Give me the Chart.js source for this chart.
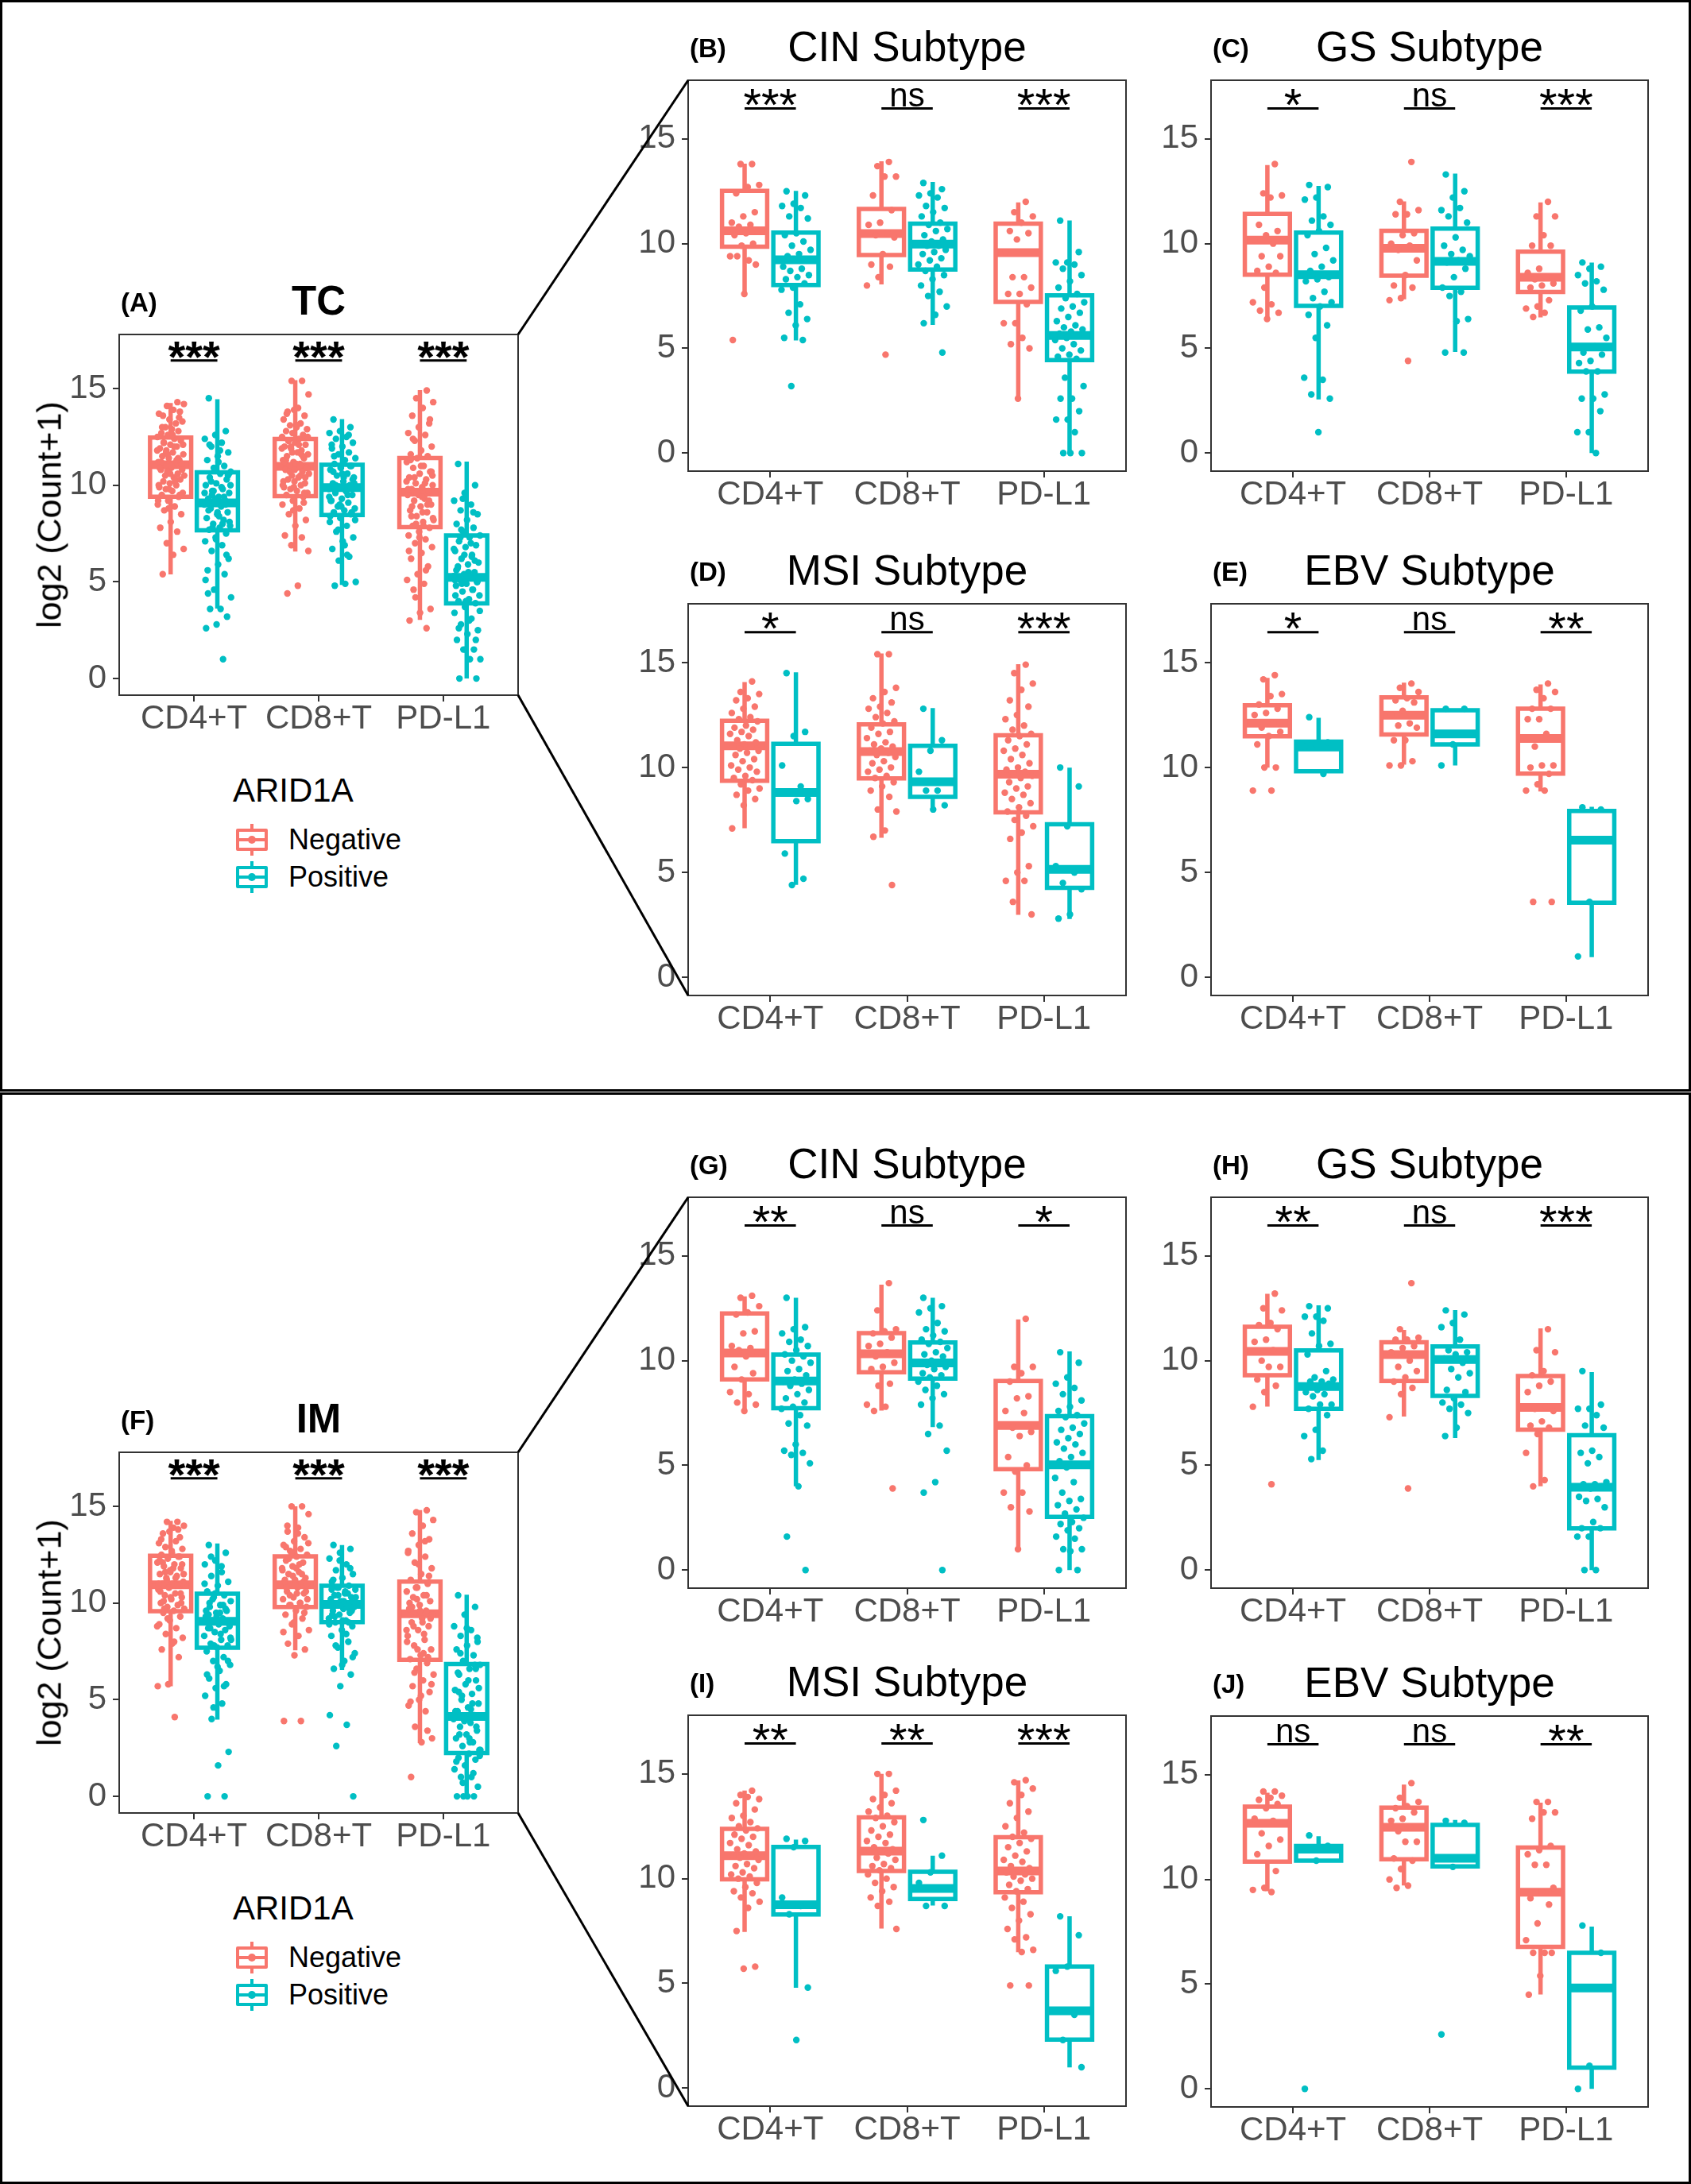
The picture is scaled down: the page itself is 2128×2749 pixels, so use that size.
<!DOCTYPE html>
<html>
<head>
<meta charset="utf-8">
<script src="https://cdn.jsdelivr.net/npm/chart.js@4.4.1/dist/chart.umd.min.js"></script>
<style>
  body { margin: 0; background: #fff; }
  #page { position: relative; width: 2128px; height: 2749px; overflow: hidden; background: #fff;
          font-family: "Liberation Sans", Arial, Helvetica, sans-serif; }
  .frame { position: absolute; left: 0; width: 2128px; height: 1374px; border: 3px solid #000; box-sizing: border-box; }
  .panel { position: absolute; }
  .tag { position: absolute; font-size: 33px; font-weight: bold; line-height: 1; transform: translateY(-50%); }
  .ttl { position: absolute; font-size: 53px; line-height: 1; white-space: nowrap; transform: translate(-50%, -50%); }
  .ttl.big { font-size: 51px; font-weight: bold; }
  .ylab { position: absolute; font-size: 43px; line-height: 1; white-space: nowrap; transform: translate(-50%, -50%) rotate(-90deg); }
  .legTitle { position: absolute; font-size: 42px; line-height: 1; transform: translateY(-50%); }
  .legText { position: absolute; font-size: 36px; line-height: 1; transform: translateY(-50%); }
  .key { position: absolute; width: 40px; height: 40px; }
  .key div { position: absolute; }
  .key .w { left: 18px; top: 0; width: 4px; height: 40px; }
  .key .b { left: 0; top: 6px; width: 40px; height: 28px; box-sizing: border-box; border: 4px solid; background: #fff; border-radius: 2px; }
  .key .m { left: 0; top: 18px; width: 40px; height: 4px; }
  .key .d { left: 15px; top: 15px; width: 10px; height: 10px; border-radius: 50%; }
  svg { position: absolute; left: 0; top: 0; }
</style>
</head>
<body>
<div id="page">
  <div class="frame" style="top:0"></div>
  <div class="frame" style="top:1375px"></div>
</div>
<script>
(function () {
  "use strict";

  var categories = ["CD4+T", "CD8+T", "PD-L1"];
  var yTicks = [0, 5, 10, 15];
  var groups = ["Negative", "Positive"];
  var groupColors = ["#F8766D", "#00BFC4"];

  // box stats per category: [lower whisker, q1, median, q3, upper whisker]

  // (A) TC
  var tcSig = ["***", "***", "***"];
  var tcNegBox = [[5.39, 9.41, 11.06, 12.47, 14.26], [6.57, 9.44, 10.98, 12.4, 15.44], [3.03, 7.83, 9.64, 11.41, 14.92]];
  var tcPosBox = [[3.62, 7.67, 9.09, 10.67, 14.45], [4.84, 8.46, 9.88, 11.06, 13.42], [0, 3.89, 5.23, 7.4, 11.22]];
  var tcNegPts = [
    [14.3,14.1,14.2,13.9,13.6,13.8,13.4,13.7,13.2,13.0,13.3,12.9,12.7,12.8,12.6,12.5,12.4,12.2,12.3,12.1,11.9,12.0,11.8,11.6,11.7,11.5,11.3,11.4,11.2,11.1,11.0,11.1,10.9,10.8,10.6,10.7,10.5,10.4,10.2,10.3,10.1,9.9,10.0,9.8,9.6,9.7,9.5,9.4,9.2,9.0,8.9,8.7,8.5,8.1,7.8,7.6,7.0,6.7,6.4,5.4,
     9.5,9.8,10.0,10.3,10.5,10.8,11.0,11.2,11.4,11.6,11.8,12.0,12.2,12.4,10.6,10.9,11.3,11.7,12.1,12.6,13.0,13.5,8.8,9.2,10.2],
    [15.4,15.4,14.7,14.0,13.8,13.6,13.9,13.4,13.2,13.1,12.9,13.0,12.8,12.6,12.7,12.5,12.4,12.3,12.1,12.2,12.0,11.8,11.9,11.6,11.7,11.5,11.4,11.2,11.3,11.1,11.0,10.9,11.0,10.8,10.7,10.5,10.6,10.4,10.3,10.1,10.2,9.9,10.0,9.8,9.6,9.7,9.5,9.4,9.2,9.0,8.8,8.5,8.2,7.9,7.4,7.3,6.9,6.6,4.8,4.4,
     9.6,9.9,10.2,10.5,10.7,10.9,11.1,11.3,11.5,11.7,11.9,12.1,12.3,10.4,10.8,11.2,11.6,12.0,12.5,13.1,13.7,9.1,8.7,10.0,11.0],
    [14.9,14.5,14.3,14.0,13.6,13.2,13.0,12.7,12.6,12.3,12.0,11.8,11.6,11.5,11.4,11.2,11.0,10.9,10.7,10.6,10.4,10.3,10.1,10.0,9.9,9.8,9.7,9.6,9.5,9.3,9.2,9.0,8.9,8.7,8.6,8.4,8.2,8.1,7.9,7.8,7.6,7.4,7.2,7.0,6.8,6.5,6.2,5.8,5.4,5.1,4.9,4.6,3.6,3.4,3.0,2.6,
     8.0,8.3,8.6,8.9,9.2,9.5,9.8,10.1,10.4,10.7,11.0,11.3,9.0,9.6,10.2,7.9,12.4,13.4,7.3,6.6,5.6,4.2,10.5,9.4,8.4]
  ];
  var tcPosPts = [
    [14.5,12.8,12.6,12.4,12.2,12.0,11.7,11.5,11.3,11.0,10.9,10.7,10.6,10.4,10.3,10.1,10.0,9.8,9.7,9.6,9.4,9.3,9.2,9.1,9.0,8.9,8.8,8.6,8.5,8.3,8.2,8.0,7.9,7.8,7.7,7.5,7.3,7.1,6.9,6.6,6.2,5.9,5.6,5.4,4.6,4.2,3.6,3.6,3.2,2.8,2.6,1.0,
     7.8,8.1,8.4,8.7,9.0,9.3,9.6,9.9,10.2,10.5,8.6,9.1,9.4,9.7,10.0,11.8,12.1,6.4,7.2,5.1,8.0,9.5,10.6,11.2,4.4],
    [13.4,13.0,12.8,12.7,12.5,12.4,12.2,12.0,11.9,11.7,11.6,11.4,11.3,11.1,11.0,10.9,10.8,10.6,10.5,10.4,10.2,10.1,10.0,9.9,9.8,9.7,9.6,9.5,9.3,9.2,9.1,8.9,8.8,8.7,8.6,8.5,8.3,8.1,7.9,7.6,7.3,7.1,6.7,6.3,6.1,5.0,4.9,4.8,
     8.6,8.9,9.2,9.5,9.8,10.1,10.4,10.7,11.0,9.0,9.4,9.7,10.0,10.3,10.6,12.1,12.6,7.7,8.2,6.9,11.5,9.9,10.9,8.4,6.4],
    [11.1,10.0,9.6,9.2,9.0,8.7,8.5,8.2,8.0,7.8,7.6,7.4,7.3,7.1,6.9,6.8,6.6,6.4,6.2,6.0,5.9,5.7,5.5,5.4,5.3,5.2,5.1,5.0,4.9,4.8,4.6,4.5,4.3,4.1,4.0,3.9,3.7,3.4,3.1,2.8,2.5,2.3,2.0,1.5,1.5,1.0,1.0,0.0,0.0,
     4.0,4.3,4.6,4.9,5.2,5.5,5.8,6.1,6.4,6.7,7.0,7.3,5.0,5.3,5.6,8.6,9.3,3.5,3.0,2.6,2.0,1.5,5.1,6.3,7.7]
  ];

  // (B) TC, CIN subtype
  var tcCinSig = ["***", "ns", "***"];
  var tcCinNegBox = [[7.66, 9.85, 10.61, 12.52, 13.82], [8.05, 9.46, 10.48, 11.66, 13.93], [2.59, 7.22, 9.57, 10.95, 11.97]];
  var tcCinPosBox = [[5.38, 8.02, 9.23, 10.53, 12.52], [6.12, 8.76, 9.98, 10.95, 12.95], [0, 4.44, 5.62, 7.53, 11.11]];
  var tcCinNegPts = [
    [13.8,13.8,12.8,12.7,12.4,11.5,11.3,11.0,10.9,10.8,10.6,10.5,10.4,10.0,9.9,9.4,9.2,9.4,9.0,7.6,5.4],
    [13.9,13.7,13.2,13.2,12.3,11.6,11.0,10.9,10.5,10.4,10.3,9.5,9.0,8.9,8.4,8.0,4.7],
    [12.0,11.5,11.3,11.0,10.6,10.5,10.2,9.6,8.4,8.4,7.9,7.6,7.6,7.1,6.2,6.2,5.5,5.2,5.0,2.6]
  ];
  var tcCinPosPts = [
    [12.5,12.3,11.9,11.8,11.7,11.3,11.2,10.5,10.4,10.1,9.9,9.7,9.5,9.4,9.2,9.2,8.9,8.8,8.7,8.5,8.4,8.3,8.1,7.9,7.8,7.1,6.7,6.4,6.1,5.5,5.4,3.2],
    [12.9,12.6,12.4,12.3,12.2,11.8,11.7,11.5,11.3,11.0,10.9,10.7,10.6,10.4,10.2,10.1,10.0,9.9,9.9,9.7,9.6,9.5,9.3,9.2,9.0,8.9,8.7,8.5,8.3,8.0,7.7,7.5,7.0,6.6,6.2,4.8],
    [11.1,9.6,9.1,9.1,9.0,8.8,8.5,8.2,7.9,7.6,7.4,7.2,7.0,6.9,6.7,6.5,6.3,6.1,6.0,5.9,5.8,5.7,5.6,5.5,5.4,5.2,5.0,4.9,4.7,4.6,4.5,3.6,3.2,2.6,2.6,2.0,1.6,1.6,1.0,0.0,0.0,0.0]
  ];

  // (C) TC, GS subtype
  var tcGsSig = ["*", "ns", "***"];
  var tcGsNegBox = [[6.43, 8.52, 10.17, 11.42, 13.75], [7.34, 8.47, 9.78, 10.61, 12.02], [6.48, 7.69, 8.39, 9.62, 11.97]];
  var tcGsPosBox = [[2.56, 7.03, 8.52, 10.53, 12.76], [4.83, 7.89, 9.15, 10.72, 13.34], [0, 3.89, 5.07, 6.95, 9.1]];
  var tcGsNegPts = [
    [13.8,12.4,12.3,12.2,10.9,10.6,10.4,10.2,10.0,9.4,9.4,8.9,8.7,8.6,7.9,7.2,7.1,6.8,6.7,6.4],
    [13.9,12.0,11.6,11.4,11.4,10.5,10.4,10.0,9.9,9.7,9.2,8.5,8.0,7.9,7.4,7.3,4.4],
    [12.0,11.3,11.3,10.4,9.9,9.9,8.8,8.6,8.4,8.3,8.1,8.0,7.9,7.3,7.0,6.9,6.7,6.5]
  ];
  var tcGsPosPts = [
    [12.8,12.7,12.2,12.1,11.3,11.1,10.9,10.6,10.4,9.8,9.5,9.2,8.9,8.7,8.4,8.3,8.2,7.7,7.4,7.2,7.0,6.6,6.1,5.5,3.6,3.5,2.8,2.6,1.0],
    [13.3,12.5,12.2,11.6,11.7,11.3,11.0,10.3,9.9,9.7,9.5,9.4,9.2,9.1,8.8,8.4,7.9,7.7,7.5,6.4,6.3,4.8,4.8],
    [9.1,8.9,8.8,8.5,8.2,8.1,7.8,7.0,6.8,6.0,5.9,5.5,5.1,4.8,4.7,4.4,4.3,3.9,3.9,2.8,2.6,2.6,2.0,1.0,1.0,0.0]
  ];

  // (D) TC, MSI subtype
  var tcMsiSig = ["*", "ns", "***"];
  var tcMsiNegBox = [[7.11, 9.37, 11.03, 12.23, 14.07], [6.65, 9.48, 10.76, 12.06, 15.43], [2.98, 7.86, 9.68, 11.54, 14.92]];
  var tcMsiPosBox = [[4.41, 6.49, 8.81, 11.13, 14.54], [8.01, 8.6, 9.32, 11.03, 12.83], [2.78, 4.27, 5.15, 7.3, 9.99]];
  var tcMsiNegPts = [
    [14.1,13.6,13.5,13.3,13.2,12.9,12.8,12.6,12.4,12.3,12.2,12.0,11.9,11.8,11.7,11.6,11.5,11.3,11.2,11.1,11.0,11.0,10.9,10.8,10.7,10.6,10.4,10.3,10.1,10.0,9.9,9.8,9.6,9.5,9.4,9.2,9.0,8.9,8.7,8.5,8.2,7.1],
    [15.4,15.4,13.8,13.6,13.3,13.1,12.9,12.8,12.6,12.4,12.2,12.1,11.9,11.7,11.6,11.4,11.2,11.1,11.0,10.9,10.8,10.7,10.6,10.5,10.3,10.2,10.0,9.9,9.8,9.6,9.5,9.3,9.1,8.9,8.6,8.0,7.9,7.0,6.7,4.4],
    [14.9,14.5,14.0,13.7,13.2,12.9,12.5,12.3,12.0,11.8,11.6,11.5,11.3,11.1,10.9,10.8,10.6,10.4,10.2,10.0,9.9,9.8,9.7,9.6,9.5,9.3,9.1,9.0,8.8,8.7,8.5,8.3,8.1,7.9,7.7,7.5,7.2,6.9,6.6,5.3,5.0,4.6,4.6,3.6,3.0]
  ];
  var tcMsiPosPts = [
    [14.5,11.7,11.5,10.1,9.1,8.8,8.5,8.4,5.9,4.7,4.4],
    [12.8,11.3,10.8,9.8,8.9,8.9,8.2,8.0],
    [10.0,9.1,7.2,5.3,5.0,4.5,4.2,3.0,2.8]
  ];

  // (E) TC, EBV subtype
  var tcEbvSig = ["*", "ns", "**"];
  var tcEbvNegBox = [[9.99, 11.49, 12.11, 12.96, 14.27], [10.14, 11.57, 12.49, 13.34, 14.04], [8.86, 9.71, 11.38, 12.8, 13.96]];
  var tcEbvPosBox = [[9.82, 9.82, 10.98, 11.23, 12.37], [10.1, 11.1, 11.6, 12.73, 12.8], [0.97, 3.56, 6.54, 7.93, 8.13]];
  var tcEbvNegPts = [
    [14.4,14.2,13.5,13.4,13.0,12.8,12.6,12.5,12.1,11.9,11.7,11.5,11.1,10.0,10.0,8.9,8.9],
    [14.0,13.8,13.6,13.3,13.2,13.1,12.7,12.5,12.1,12.0,11.9,11.3,11.3,10.3,10.1,10.1],
    [14.0,13.7,13.6,13.3,12.8,12.8,12.3,12.3,11.6,11.0,10.1,10.1,10.0,9.7,9.2,8.9,8.9,3.6,3.6]
  ];
  var tcEbvPosPts = [
    [12.4,11.2,11.1,11.0,9.7],
    [12.8,12.8,11.1,10.1],
    [8.1,8.0,3.6,1.0]
  ];

  // (F) IM
  var imSig = ["***", "***", "***"];
  var imNegBox = [[5.7, 9.58, 10.95, 12.45, 14.26], [7.56, 9.8, 10.95, 12.42, 15.0], [2.76, 7.06, 9.45, 11.11, 14.81]];
  var imPosBox = [[3.97, 7.69, 9.06, 10.48, 13.08], [6.54, 9.01, 9.93, 10.9, 13.0], [0, 2.24, 4.13, 6.85, 10.43]];
  var imNegPts = [
    [14.2,14.2,14.0,13.9,13.6,13.4,13.7,13.1,13.2,12.9,12.8,12.6,12.5,12.4,12.3,12.1,12.0,11.9,11.8,11.6,11.5,11.4,11.3,11.1,11.0,11.0,10.9,10.8,10.7,10.5,10.4,10.3,10.2,10.0,9.9,9.8,9.7,9.6,9.5,9.3,9.1,8.9,8.7,8.4,8.2,7.9,7.6,7.2,5.8,5.7,4.1,
     9.7,10.0,10.3,10.6,10.9,11.2,11.5,11.8,12.1,12.4,10.8,11.0,11.3,11.6,12.0,12.7,13.3,13.8,9.2,8.8,8.0,10.1,10.5,11.7,12.2],
    [15.0,15.0,14.6,13.9,13.7,13.4,13.2,13.0,12.8,12.7,12.5,12.4,12.2,12.1,11.9,11.8,11.6,11.5,11.3,11.2,11.1,11.0,10.9,10.9,10.8,10.6,10.5,10.3,10.2,10.0,9.9,9.8,9.6,9.4,9.2,8.9,8.6,8.3,7.9,7.6,7.3,3.9,3.9,
     9.9,10.2,10.5,10.8,11.1,11.4,11.7,12.0,12.3,10.6,10.9,11.2,11.5,12.6,13.1,13.6,14.0,9.5,9.0,8.5,10.0,10.4,11.0,11.8,12.9],
    [14.8,14.7,14.3,14.0,13.6,13.3,13.0,12.7,12.4,12.1,11.8,11.5,11.2,11.0,10.8,10.6,10.4,10.3,10.1,9.9,9.7,9.6,9.5,9.4,9.2,9.0,8.8,8.6,8.3,8.1,7.8,7.6,7.3,7.1,6.9,6.6,6.3,6.0,5.7,5.4,5.0,4.7,4.4,3.6,3.0,2.8,1.0,
     7.2,7.6,8.0,8.4,8.8,9.2,9.6,10.0,10.4,10.8,9.4,9.0,9.8,11.4,12.0,12.6,13.2,6.4,5.8,5.2,4.9,3.4,10.2,8.6,7.4]
  ];
  var imPosPts = [
    [13.0,12.6,12.2,12.0,11.6,11.4,11.1,10.9,10.6,10.4,10.3,10.1,9.9,9.8,9.6,9.5,9.3,9.2,9.1,9.0,8.9,8.7,8.6,8.5,8.3,8.1,7.9,7.8,7.7,7.5,7.2,7.0,6.8,6.5,6.1,5.8,5.6,5.2,4.8,4.0,2.3,1.6,0.0,0.0,
     7.8,8.1,8.4,8.7,9.0,9.3,9.6,9.9,10.2,8.8,9.1,9.4,9.7,10.5,11.0,11.9,12.4,7.0,6.7,6.3,5.7,4.6,8.2,9.5,10.0],
    [13.0,12.8,12.6,12.3,12.0,11.7,11.5,11.3,11.1,10.9,10.8,10.7,10.5,10.4,10.3,10.1,10.0,9.9,9.9,9.8,9.7,9.6,9.5,9.4,9.2,9.1,9.0,8.8,8.6,8.3,8.0,7.7,7.4,7.0,6.6,6.3,5.7,4.2,3.7,2.6,0.0,
     9.1,9.4,9.7,10.0,10.3,10.6,9.3,9.6,9.9,10.2,10.5,10.8,9.8,10.1,11.2,11.8,12.2,8.9,8.4,7.8,7.2,6.8,10.7,9.0,10.4],
    [10.4,9.8,9.4,8.8,8.6,8.3,8.0,7.8,7.6,7.3,7.0,6.8,6.6,6.3,6.0,5.8,5.5,5.3,5.0,4.8,4.6,4.4,4.2,4.1,4.0,3.8,3.6,3.4,3.2,3.0,2.8,2.6,2.4,2.2,2.0,1.9,1.6,1.4,1.0,1.0,0.5,0.0,0.0,0.0,0.0,
     2.4,2.8,3.2,3.6,4.0,4.4,4.8,5.2,5.6,6.0,6.4,6.8,3.9,4.2,4.5,7.4,8.2,8.7,1.8,1.2,0.7,2.1,3.0,5.4,6.6]
  ];

  // (G) IM, CIN subtype
  var imCinSig = ["**", "ns", "*"];
  var imCinNegBox = [[7.62, 9.11, 10.37, 12.25, 13.07], [7.62, 9.45, 10.33, 11.31, 13.63], [1.02, 4.82, 6.91, 9.03, 11.97]];
  var imCinPosBox = [[4.0, 7.73, 9.03, 10.29, 13.0], [6.83, 9.14, 9.89, 10.87, 13.0], [0, 2.54, 5.03, 7.35, 10.44]];
  var imCinNegPts = [
    [13.1,13.0,12.6,12.3,12.2,11.4,11.3,10.7,10.6,10.5,10.4,10.2,9.7,9.4,9.1,8.5,8.4,8.0,7.9,7.6],
    [13.7,12.4,11.5,11.4,11.3,11.1,10.8,10.7,10.4,10.2,9.9,9.7,9.6,8.9,8.8,7.9,7.8,7.6,3.9],
    [12.0,9.7,9.7,9.4,9.0,8.3,8.2,7.6,7.5,6.8,6.6,6.4,5.4,5.0,4.7,3.7,3.7,3.0,2.8,1.0]
  ];
  var imCinPosPts = [
    [13.0,11.6,11.5,11.3,11.0,10.9,10.7,10.5,10.3,10.2,10.0,9.9,9.6,9.5,9.3,9.1,9.0,8.9,8.8,8.6,8.4,8.2,8.0,7.8,7.7,7.4,7.0,6.9,6.0,5.7,5.6,5.5,5.1,4.0,1.6,0.0],
    [13.0,12.6,12.5,12.3,11.8,11.5,11.4,11.2,11.0,10.9,10.8,10.6,10.4,10.3,10.2,10.0,9.9,9.9,9.8,9.7,9.6,9.4,9.3,9.2,9.0,8.8,8.6,8.4,8.2,7.9,6.9,6.5,5.7,4.2,3.7,0.0],
    [10.4,9.9,9.2,8.9,8.7,8.4,8.1,7.8,7.6,7.4,7.3,7.0,6.8,6.7,6.5,6.3,6.1,6.0,5.8,5.6,5.4,5.2,5.0,4.9,4.4,4.2,3.7,3.4,3.3,3.1,2.9,2.7,2.5,2.3,2.2,2.0,1.9,1.6,1.5,1.0,1.0,0.9,0.0,0.0]
  ];

  // (H) IM, GS subtype
  var imGsSig = ["**", "ns", "***"];
  var imGsNegBox = [[7.81, 9.3, 10.44, 11.62, 13.19], [7.33, 9.03, 10.29, 10.88, 11.47], [4.0, 6.71, 7.77, 9.27, 11.54]];
  var imGsPosBox = [[5.26, 7.7, 8.76, 10.49, 12.64], [6.31, 8.32, 10.05, 10.68, 12.41], [0, 1.99, 3.96, 6.44, 9.46]];
  var imGsNegPts = [
    [13.2,12.5,12.4,11.8,11.7,11.5,11.0,10.9,10.5,10.0,9.7,9.7,9.1,8.8,8.5,7.8,4.1],
    [13.7,11.5,11.1,11.0,11.0,10.7,10.6,10.4,10.0,9.7,9.5,9.2,9.0,8.7,8.4,7.3,3.9],
    [11.5,10.5,10.4,9.5,9.3,9.0,8.8,8.5,7.8,7.7,7.6,7.1,6.9,6.8,6.5,5.6,4.3,4.0]
  ];
  var imGsPosPts = [
    [12.6,12.5,12.1,12.1,11.9,11.3,10.8,10.7,10.3,9.5,9.2,9.1,9.0,9.0,8.9,8.6,8.5,8.4,8.3,7.9,7.9,7.7,7.4,6.7,6.4,5.7,5.3],
    [12.4,12.2,11.8,11.6,11.0,10.5,10.4,10.3,10.1,9.9,9.6,9.4,9.2,8.6,8.5,8.2,8.0,7.9,7.7,7.5,6.8,6.4],
    [9.5,7.9,7.7,7.7,7.4,6.9,6.8,5.7,5.6,5.4,5.1,4.2,4.1,4.1,4.0,3.9,3.5,3.4,3.3,3.0,2.3,2.0,2.0,1.6,1.6,0.0,0.0]
  ];

  // (I) IM, MSI subtype
  var imMsiSig = ["**", "**", "***"];
  var imMsiNegBox = [[7.46, 9.97, 11.1, 12.38, 14.21], [7.62, 10.37, 11.31, 12.93, 15.0], [6.49, 9.35, 10.37, 11.98, 14.69]];
  var imMsiPosBox = [[4.79, 8.29, 8.75, 11.51, 11.86], [8.72, 9.03, 9.53, 10.33, 11.1], [0.99, 2.32, 3.69, 5.81, 8.2]];
  var imMsiNegPts = [
    [14.2,14.0,13.8,13.9,13.6,13.3,13.0,12.9,12.7,12.5,12.4,12.3,12.1,12.0,11.9,11.7,11.6,11.4,11.3,11.2,11.1,11.1,11.0,10.9,10.7,10.6,10.5,10.3,10.2,10.1,10.0,9.8,9.6,9.4,9.3,9.1,8.9,8.6,7.5,5.8,5.7],
    [15.0,15.0,14.2,14.0,13.8,13.6,13.4,13.2,13.0,12.9,12.7,12.5,12.3,12.1,12.0,11.8,11.7,11.5,11.4,11.3,11.3,11.2,11.0,10.9,10.7,10.6,10.5,10.4,10.2,10.0,9.8,9.6,9.4,9.1,8.9,8.7,7.6],
    [14.7,14.6,14.3,14.0,13.6,13.2,12.9,12.5,12.2,12.0,11.9,11.7,11.5,11.3,11.1,10.9,10.8,10.6,10.5,10.4,10.3,10.2,10.1,10.0,9.9,9.7,9.5,9.4,9.1,8.9,8.6,8.3,8.0,7.6,7.2,7.1,6.6,6.5,4.9,4.9]
  ];
  var imMsiPosPts = [
    [11.9,11.8,11.5,9.1,8.7,8.3,4.8,2.3],
    [12.8,11.1,10.3,9.8,9.5,8.7,8.7],
    [8.2,7.3,5.8,5.6,3.5,2.3,1.0]
  ];

  // (J) IM, EBV subtype
  var imEbvSig = ["ns", "ns", "**"];
  var imEbvNegBox = [[9.44, 10.85, 12.68, 13.48, 14.14], [9.71, 10.96, 12.49, 13.43, 14.53], [4.51, 6.78, 9.39, 11.52, 13.67]];
  var imEbvPosBox = [[10.9, 10.9, 11.45, 11.6, 12.06], [10.62, 10.62, 11.01, 12.6, 12.84], [0, 1.02, 4.82, 6.5, 7.75]];
  var imEbvNegPts = [
    [14.2,14.2,14.0,13.9,13.8,13.6,13.4,12.9,12.8,12.2,11.9,11.6,11.2,10.4,9.6,9.5,9.4],
    [14.6,13.9,13.7,13.5,13.4,13.2,12.9,12.8,12.5,12.3,11.8,11.8,11.0,10.9,10.5,10.0,9.7,9.6],
    [13.7,13.7,13.2,13.2,12.9,11.6,11.4,11.2,10.7,10.7,9.6,9.4,9.1,8.8,7.9,7.1,6.5,6.5,6.5,5.4,4.5]
  ];
  var imEbvPosPts = [
    [12.1,11.6,10.9,0.0],
    [12.8,12.7,10.6,2.6],
    [7.8,6.5,1.1,0.0]
  ];

  // panel plot areas [left, top, right, bottom] in page pixels
  var panels = [
    { tag: "(A)", title: "TC", big: true, rect: [150, 421, 652, 875], sig: tcSig, box: [tcNegBox, tcPosBox], pts: [tcNegPts, tcPosPts] },
    { tag: "(B)", title: "CIN Subtype", rect: [866, 101, 1417, 593], sig: tcCinSig, box: [tcCinNegBox, tcCinPosBox], pts: [tcCinNegPts, tcCinPosPts] },
    { tag: "(C)", title: "GS Subtype", rect: [1524, 101, 2074, 593], sig: tcGsSig, box: [tcGsNegBox, tcGsPosBox], pts: [tcGsNegPts, tcGsPosPts] },
    { tag: "(D)", title: "MSI Subtype", rect: [866, 760, 1417, 1253], sig: tcMsiSig, box: [tcMsiNegBox, tcMsiPosBox], pts: [tcMsiNegPts, tcMsiPosPts] },
    { tag: "(E)", title: "EBV Subtype", rect: [1524, 760, 2074, 1253], sig: tcEbvSig, box: [tcEbvNegBox, tcEbvPosBox], pts: [tcEbvNegPts, tcEbvPosPts] },
    { tag: "(F)", title: "IM", big: true, rect: [150, 1828, 652, 2282], sig: imSig, box: [imNegBox, imPosBox], pts: [imNegPts, imPosPts] },
    { tag: "(G)", title: "CIN Subtype", rect: [866, 1507, 1417, 1999], sig: imCinSig, box: [imCinNegBox, imCinPosBox], pts: [imCinNegPts, imCinPosPts] },
    { tag: "(H)", title: "GS Subtype", rect: [1524, 1507, 2074, 1999], sig: imGsSig, box: [imGsNegBox, imGsPosBox], pts: [imGsNegPts, imGsPosPts] },
    { tag: "(I)", title: "MSI Subtype", rect: [866, 2159, 1417, 2651], sig: imMsiSig, box: [imMsiNegBox, imMsiPosBox], pts: [imMsiNegPts, imMsiPosPts] },
    { tag: "(J)", title: "EBV Subtype", rect: [1524, 2160, 2074, 2652], sig: imEbvSig, box: [imEbvNegBox, imEbvPosBox], pts: [imEbvNegPts, imEbvPosPts] }
  ];

  var FONT = '"Liberation Sans", Arial, Helvetica, sans-serif';
  var DODGE = 0.1875, HALF = 0.165, JIT = 0.11;
  var SIG_LINE = 16.45, SIG_TEXT = 17.0;
  var PAD = { left: 120, top: 40, right: 10, bottom: 80 };
  Chart.defaults.font.family = FONT;

  var page = document.getElementById("page");

  function el(cls, text, css) {
    var d = document.createElement("div");
    d.className = cls;
    if (text) d.textContent = text;
    Object.assign(d.style, css);
    page.appendChild(d);
    return d;
  }

  // box outline + whiskers as one broken line, median as another
  function boxData(stats, off) {
    var box = [], mid = [];
    stats.forEach(function (s, i) {
      var x = i + 1 + off;
      box.push({ x: x - HALF, y: s[1] }, { x: x + HALF, y: s[1] }, { x: x + HALF, y: s[3] },
               { x: x - HALF, y: s[3] }, { x: x - HALF, y: s[1] }, { x: x + HALF, y: s[1] }, { x: x, y: null });
      box.push({ x: x, y: s[3] }, { x: x, y: s[4] }, { x: x, y: null },
               { x: x, y: s[1] }, { x: x, y: s[0] }, { x: x, y: null });
      mid.push({ x: x - HALF, y: s[2] }, { x: x + HALF, y: s[2] }, { x: x, y: null });
    });
    return { box: box, mid: mid };
  }

  function pointData(lists, off, seed) {
    var out = [];
    lists.forEach(function (vals, i) {
      vals.forEach(function (v, k) {
        var t = (seed + (k + 1) * 0.6180339887) % 1;
        out.push({ x: i + 1 + off + (t - 0.5) * 2 * JIT, y: v });
      });
    });
    return out;
  }

  var panelPlugin = {
    id: "panelDeco",
    afterDraw: function (chart) {
      var o = chart.options.plugins.panelDeco;
      var ctx = chart.ctx, a = chart.chartArea;
      var xs = chart.scales.x, ys = chart.scales.y;
      ctx.save();
      ctx.strokeStyle = "#333333";
      ctx.lineWidth = 2;
      ctx.strokeRect(a.left, a.top, a.right - a.left, a.bottom - a.top);
      ctx.fillStyle = "#000";
      ctx.strokeStyle = "#000";
      o.sig.forEach(function (s, i) {
        var yl = ys.getPixelForValue(SIG_LINE);
        ctx.lineWidth = 3;
        ctx.beginPath();
        ctx.moveTo(xs.getPixelForValue(i + 1 - DODGE), yl);
        ctx.lineTo(xs.getPixelForValue(i + 1 + DODGE), yl);
        ctx.stroke();
        var stars = s !== "ns";
        ctx.font = (stars ? (o.big ? "bold 56px " : "58px ") : "42px ") + FONT;
        ctx.textAlign = "center";
        ctx.textBaseline = "alphabetic";
        var m = ctx.measureText(s);
        var yc = ys.getPixelForValue(SIG_TEXT);
        ctx.fillText(s, xs.getPixelForValue(i + 1), yc + (m.actualBoundingBoxAscent - m.actualBoundingBoxDescent) / 2);
      });
      ctx.restore();
    }
  };

  function makePanel(p) {
    var L = p.rect[0], T = p.rect[1], R = p.rect[2], B = p.rect[3];
    var w = R - L + PAD.left + PAD.right, h = B - T + PAD.top + PAD.bottom;
    var wrap = el("panel", null, { left: (L - PAD.left) + "px", top: (T - PAD.top) + "px" });
    var cv = document.createElement("canvas");
    cv.width = w; cv.height = h;
    cv.style.width = w + "px"; cv.style.height = h + "px";
    wrap.appendChild(cv);

    var neg = boxData(p.box[0], -DODGE), pos = boxData(p.box[1], DODGE);
    var lineStyle = { type: "scatter", showLine: true, pointRadius: 0, pointHoverRadius: 0, fill: false,
                      borderJoinStyle: "miter", borderCapStyle: "butt", spanGaps: false, order: 2 };
    var datasets = [
      { label: groups[0], data: pointData(p.pts[0], -DODGE, 0.13), backgroundColor: groupColors[0], borderWidth: 0, pointRadius: 4.2, pointHoverRadius: 4.2, order: 1 },
      { label: groups[1], data: pointData(p.pts[1], DODGE, 0.57), backgroundColor: groupColors[1], borderWidth: 0, pointRadius: 4.2, pointHoverRadius: 4.2, order: 1 },
      Object.assign({ label: groups[0] + " box", data: neg.box, borderColor: groupColors[0], borderWidth: 5.5 }, lineStyle),
      Object.assign({ label: groups[1] + " box", data: pos.box, borderColor: groupColors[1], borderWidth: 5.5 }, lineStyle),
      Object.assign({ label: groups[0] + " median", data: neg.mid, borderColor: groupColors[0], borderWidth: 11 }, lineStyle),
      Object.assign({ label: groups[1] + " median", data: pos.mid, borderColor: groupColors[1], borderWidth: 11 }, lineStyle)
    ];

    var tickFont = { size: 42, family: FONT };
    new Chart(cv.getContext("2d"), {
      type: "scatter",
      data: { datasets: datasets },
      options: {
        responsive: false,
        animation: false,
        devicePixelRatio: 1,
        events: [],
        layout: { padding: { left: 0, top: PAD.top, right: PAD.right, bottom: 0 } },
        plugins: {
          legend: { display: false },
          tooltip: { enabled: false },
          panelDeco: { sig: p.sig, big: !!p.big }
        },
        scales: {
          x: {
            type: "linear", min: 0.4, max: 3.6,
            afterBuildTicks: function (s) { s.ticks = [1, 2, 3].map(function (v) { return { value: v }; }); },
            afterFit: function (s) { s.height = PAD.bottom; },
            ticks: { callback: function (v, i) { return categories[i]; }, font: tickFont, color: "#4D4D4D", padding: -3, maxRotation: 0, autoSkip: false },
            grid: { display: true, drawOnChartArea: false, drawTicks: true, tickLength: 8, color: "#333333", lineWidth: 2 },
            border: { display: false }
          },
          y: {
            type: "linear", min: -0.86, max: 17.8,
            afterBuildTicks: function (s) { s.ticks = yTicks.map(function (v) { return { value: v }; }); },
            afterFit: function (s) { s.width = PAD.left; },
            ticks: { callback: function (v) { return v; }, font: tickFont, color: "#4D4D4D", padding: 8 },
            grid: { display: true, drawOnChartArea: false, drawTicks: true, tickLength: 8, color: "#333333", lineWidth: 2 },
            border: { display: false }
          }
        }
      },
      plugins: [panelPlugin]
    });

    // titles and panel tags
    el("tag", p.tag, { left: L + 2 + "px", top: (T - 41) + "px" });
    el(p.big ? "ttl big" : "ttl", p.title, { left: (L + R) / 2 + "px", top: (T - 43) + "px" });
    if (p.big) el("ylab", "log2 (Count+1)", { left: "62px", top: (T + B) / 2 + "px" });
  }

  panels.forEach(makePanel);

  // ARID1A legends under panels A and F
  [panels[0], panels[5]].forEach(function (p) {
    var dy = p.rect[1] - 421;
    el("legTitle", "ARID1A", { left: "293px", top: (995 + dy) + "px" });
    groups.forEach(function (g, i) {
      var cy = 1057 + i * 46.5 + dy;
      var key = el("key", null, { left: "297px", top: (cy - 20) + "px" });
      ["w", "b", "m", "d"].forEach(function (c) {
        var part = document.createElement("div");
        part.className = c;
        if (c === "b") part.style.borderColor = groupColors[i];
        else part.style.background = groupColors[i];
        key.appendChild(part);
      });
      el("legText", g, { left: "363px", top: cy + "px" });
    });
  });

  // zoom lines from the overall panels to the subtype panels
  var ns = "http://www.w3.org/2000/svg";
  var svg = document.createElementNS(ns, "svg");
  svg.setAttribute("width", 2128);
  svg.setAttribute("height", 2749);
  [[0, 1, "top"], [0, 3, "bottom"], [5, 6, "top"], [5, 8, "bottom"]].forEach(function (c) {
    var a = panels[c[0]].rect, b = panels[c[1]].rect;
    var ya = c[2] === "top" ? a[1] : a[3], yb = c[2] === "top" ? b[1] : b[3];
    var ln = document.createElementNS(ns, "line");
    ln.setAttribute("x1", a[2]); ln.setAttribute("y1", ya);
    ln.setAttribute("x2", b[0]); ln.setAttribute("y2", yb);
    ln.setAttribute("stroke", "#000"); ln.setAttribute("stroke-width", 3);
    svg.appendChild(ln);
  });
  page.appendChild(svg);
})();
</script>
</body>
</html>
